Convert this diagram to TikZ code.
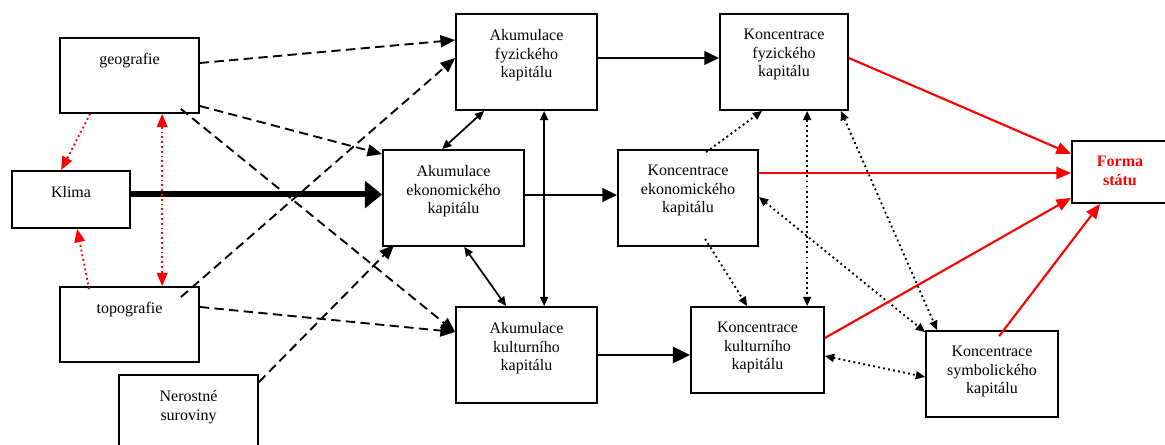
\documentclass[tikz,border=0pt]{standalone}
\usepackage{fontspec}
\setmainfont{Liberation Serif}
\usetikzlibrary{arrows.meta,calc}

\begin{document}
\begin{tikzpicture}[
    x=0.75pt, y=-0.75pt,
    box/.style 2 args={
        draw,
        line width=1.3pt,
        minimum width=#1*0.75pt,
        minimum height=#2*0.75pt,
        inner sep=0pt
    },
    lbl/.style={
        anchor=north,
        align=center,
        inner sep=0pt,
        yshift=-12pt,
        font=\fontsize{12}{13.9}\selectfont
    },
    dashline/.style={line width=1.4pt, dash pattern=on 7pt off 4pt, -{Triangle[length=11pt,width=9pt]}},
    solidline/.style={line width=1.8pt, -{Triangle[length=11pt,width=10pt]}},
    twoway/.style={line width=1.3pt, {Triangle[length=7pt,width=6pt]}-{Triangle[length=7pt,width=6pt]}},
    dotline/.style={line width=1.4pt, dash pattern=on 1.4pt off 2.4pt},
    dottip/.style={-{Triangle[length=7pt,width=6pt]}},
    dottwo/.style={{Triangle[length=7pt,width=6pt]}-{Triangle[length=7pt,width=6pt]}},
    reddot/.style={red, line width=1.4pt, dash pattern=on 1.4pt off 2.2pt},
    redline/.style={red, line width=1.6pt, -{Triangle[length=11pt,width=9pt]}}
    ]

    \useasboundingbox (0,0) rectangle (1165,445);

    % left side
    \node[box={139}{75}, label={[lbl]north:geografie}] (geo) at (129.5,75.5) {};
    \node[box={118}{57}, label={[lbl]north:Klima}] (klima) at (71,199.5) {};
    \node[box={139}{75}, label={[lbl]north:topografie}] (topo) at (129.5,324.5) {};
    \node[box={139}{75}, label={[lbl]north:{Nerostné\\suroviny}}] (ner) at (188.5,412.5) {};

    % akumulace
    \node[box={141}{96}, label={[lbl]north:{Akumulace\\fyzického\\kapitálu}}] (AF) at (526.5,62) {};
    \node[box={141}{96}, label={[lbl]north:{Akumulace\\ekonomického\\kapitálu}}] (AE) at (453.5,198) {};
    \node[box={141}{96}, label={[lbl]north:{Akumulace\\kulturního\\kapitálu}}] (AK) at (526.5,355) {};

    % koncentrace
    \node[box={128}{96}, label={[lbl]north:{Koncentrace\\fyzického\\kapitálu}}] (KF) at (784,62) {};
    \node[box={140}{96}, label={[lbl]north:{Koncentrace\\ekonomického\\kapitálu}}] (KE) at (688,198) {};
    \node[box={133}{86}, label={[lbl]north:{Koncentrace\\kulturního\\kapitálu}}] (KK) at (757.5,350) {};
    \node[box={132}{86}, label={[lbl]north:{Koncentrace\\symbolického\\kapitálu}}] (KS) at (992,374) {};

    \node[box={96}{62}, label={[lbl, text=red, font=\fontsize{12}{13.9}\selectfont\bfseries]north:{Forma\\státu}}] (FS) at (1120,172) {};

    % dashed inputs
    \draw[dashline] ($(geo.east)+(0,-12.5)$) -- ($(AF.west)+(0,-22)$);
    \draw[dashline] ($(geo.east)+(0,30.5)$) -- ($(AE.north west)+(0,5)$);
    \draw[dashline] ($(geo.south east)+(-19,-5)$) -- ($(AK.west)+(0,-23)$);
    \draw[dashline] ($(topo.east)+(0,-17.5)$) -- ($(AK.west)+(0,-23)$);
    \draw[dashline] ($(topo.north east)+(-19,11)$) -- ($(AF.west)+(0,-4)$);
    \draw[dashline] ($(ner.north east)+(0,8)$) -- ($(AE.south west)+(12,-2)$);
    \draw[line width=4.5pt, -{Triangle[length=13pt,width=20pt]}] ($(klima.east)+(0,-5)$) -- ($(AE.west)+(0,-3.5)$);

    % red dotted
    \draw[reddot, -{Triangle[length=10pt,width=8pt]}] ($(geo.south west)+(31,0)$) -- ($(klima.north west)+(50,0)$);
    \draw[reddot, -{Triangle[length=10pt,width=8pt]}] ($(topo.north west)+(30,3)$) -- ($(klima.south west)+(66,0)$);
    \draw[reddot, {Triangle[length=10pt,width=8pt]}-{Triangle[length=10pt,width=8pt]}] ($(geo.south west)+(103,0)$) -- ($(topo.north west)+(103,0)$);

    % akumulace -> koncentrace
    \draw[solidline] ($(AF.east)+(0,-4)$) -- ($(KF.west)+(0,-4)$);
    \draw[solidline] ($(AE.east)+(0,-3)$) -- ($(KE.west)+(0,-3)$);
    \draw[solidline, line width=2.2pt, -{Triangle[length=13pt,width=12pt]}] (AK.east) -- ($(KK.west)+(0,5)$);
    \draw[twoway] ($(AF.south west)+(29,0)$) -- ($(AE.north west)+(60,0)$);
    \draw[twoway] ($(AE.south west)+(82,0)$) -- ($(AK.north west)+(51,0)$);
    \draw[twoway] ($(AF.south west)+(89,0)$) -- ($(AK.north west)+(89,0)$);

    % koncentrace links
    \draw[dotline, dottip] ($(KE.north west)+(89,3)$) -- ($(KF.south west)+(43,0)$);
    \draw[dotline, dottip] ($(KE.south west)+(88,-8)$) -- ($(KK.north west)+(57,0)$);
    \draw[dotline, dottwo] ($(KF.south west)+(88,0)$) -- ($(KK.north west)+(117,0)$);
    \draw[dotline, dottwo] ($(KF.south east)+(-8,0)$) -- ($(KS.north west)+(12,0)$);
    \draw[dotline, dottwo] ($(KE.east)+(0,-1)$) -- ($(KS.north west)+(0,2)$);
    \draw[dotline, dottwo] ($(KK.east)+(0,6)$) -- ($(KS.west)+(0,3)$);

    % forma statu
    \draw[redline] ($(KF.east)+(0,-4)$) -- ($(FS.west)+(0,-18)$);
    \draw[redline] ($(KE.east)+(0,-25)$) -- ($(FS.west)+(0,1)$);
    \draw[redline] ($(KK.east)+(0,-12)$) -- ($(FS.south west)+(0,-6)$);
    \draw[redline] ($(KS.north west)+(74,6)$) -- ($(FS.south west)+(29,0)$);
\end{tikzpicture}
\end{document}
